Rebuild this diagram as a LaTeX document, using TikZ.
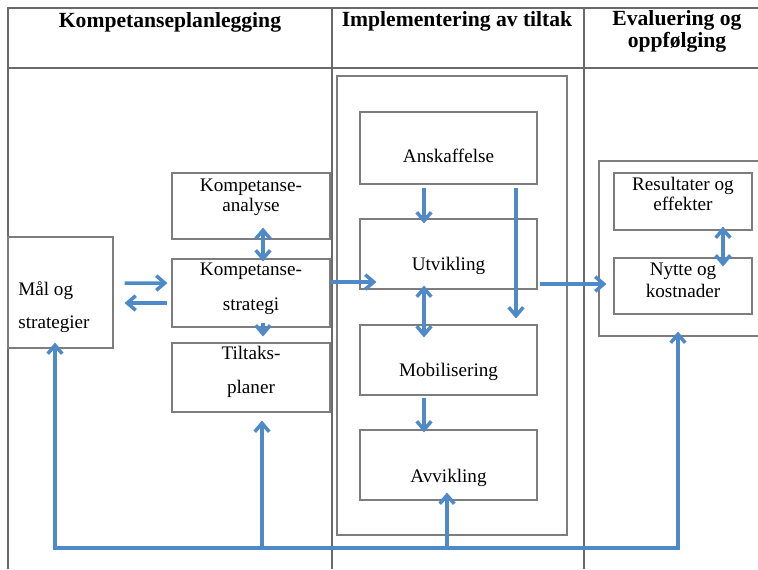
\documentclass[tikz,border=0pt]{standalone}
\usepackage{fontspec}
\setmainfont{Liberation Serif}
\usetikzlibrary{arrows.meta,calc,fit}

\definecolor{blaa}{RGB}{79,138,200}
\definecolor{strek}{RGB}{125,125,125}

\begin{document}
\begin{tikzpicture}[
  x=0.02cm, y=-0.02cm,
  >={Straight Barb[length=1.7mm,width=2.9mm]},
  boks/.style={draw=strek, line width=0.6pt, inner sep=0pt},
  tabell/.style={draw=strek!85!black, line width=0.6pt},
  txt/.style={inner sep=0pt, anchor=base, align=center, font=\fontsize{10.9}{11}\selectfont},
  hode/.style={inner sep=0pt, anchor=base, align=center, font=\fontsize{12.3}{12}\selectfont\bfseries},
  pil/.style={->, draw=blaa, line width=2pt}
]
\useasboundingbox (0,0) rectangle (758,569);
\clip (0,0) rectangle (758,569);

% Table frame and headers
\draw[tabell] (8,569) -- (8,8) -- (758,8);
\draw[tabell] (8,68) -- (758,68);
\draw[tabell] (332,8) -- (332,569);
\draw[tabell] (584,8) -- (584,569);

% (base of a two-line node = baseline of its last line)
\node[hode] (h1) at (170,27) {Kompetanseplanlegging};
\node[hode] (h2) at (457,26) {Implementering av tiltak};
\node[hode] (h3) at (677,47) {Evaluering og\\oppfølging};

% Kompetanseplanlegging
\node[boks, fit={(8,237) (113,348)}] (mal) {};
\node[txt, anchor=base west, align=left] (mal-t) at (18,328) {Mål og\\[7.7pt]strategier};
\node[boks, fit={(172,173) (330,239)}] (analyse) {};
\node[txt] (analyse-t) at (251,211) {Kompetanse-\\analyse};
\node[boks, fit={(172,259) (330,327)}] (strategi) {};
\node[txt] (strategi-t) at (251,310) {Kompetanse-\\[8.8pt]strategi};
\node[boks, fit={(172,343) (330,412)}] (tiltak) {};
\node[txt] (tiltak-t) at (251,393) {Tiltaks-\\[8.3pt]planer};

% Implementering av tiltak
\node[boks, fit={(337,76) (567,535)}] (impl) {};
\node[boks, fit={(360,112) (537,184)}] (anskaff) {};
\node[txt] (anskaff-t) at (448.5,162) {Anskaffelse};
\node[boks, fit={(360,219) (537,289)}] (utvikl) {};
\node[txt] (utvikl-t) at (448.5,270) {Utvikling};
\node[boks, fit={(360,325) (537,395)}] (mobil) {};
\node[txt] (mobil-t) at (448.5,376) {Mobilisering};
\node[boks, fit={(360,430) (537,500)}] (avvikl) {};
\node[txt] (avvikl-t) at (448.5,482) {Avvikling};

% Evaluering og oppfolging
\node[boks, fit={(599,161) (762,336)}] (eval) {};
\node[boks, fit={(614,173) (752,230)}] (result) {};
\node[txt] (result-t) at (683,210) {Resultater og\\effekter};
\node[boks, fit={(614,258) (752,314)}] (nytte) {};
\node[txt] (nytte-t) at (683,297) {Nytte og\\[1.5pt]kostnader};

% Arrows, left column
\draw[pil] ($(mal.east)+(11,-9.5)$) -- ($(strategi.west)+(-4,-10)$);
\draw[pil] ($(strategi.west)+(-4,10)$) -- ($(mal.east)+(11,10.5)$);
\draw[pil, <->] ($(analyse.south)+(12,-12)$) -- ($(strategi.north)+(12,3)$);
\draw[pil] ($(strategi.south)+(12,-5)$) -- ($(tiltak.north)+(12,-6)$);
\draw[pil] ($(strategi.east)+(0,-11)$) -- ($(utvikl.west)+(17,28)$);

% Arrows, middle column
\draw[pil] ($(anskaff.south)+(-24.5,3)$) -- ($(utvikl.north)+(-24.5,5)$);
\draw[pil] ($(anskaff.south)+(67.5,3)$) -- ($(mobil.north)+(67.5,-6)$);
\draw[pil, <->] ($(utvikl.south)+(-24.5,-4)$) -- ($(mobil.north)+(-24.5,13)$);
\draw[pil] ($(mobil.south)+(-24.5,2)$) -- ($(avvikl.north)+(-24.5,3)$);
\draw[pil] ($(utvikl.east)+(2,30)$) -- ($(eval.west)+(8,35.5)$);

% Arrows, right column
\draw[pil, <->] ($(result.south)+(40,-4)$) -- ($(nytte.north)+(40,9)$);

% Feedback loop
\coordinate (retur) at (447,548);
\coordinate (tiltak-fot) at ($(tiltak.south)+(11,0)$);
\draw[pil, <->] ($(mal.south)+(-5.5,-6)$) |- (retur) -| ($(eval.south)+(-2.5,-5)$);
\draw[pil] (tiltak-fot |- retur) -- ($(tiltak.south)+(11,8)$);
\draw[pil] (retur) -- ($(avvikl.south)+(-1.5,-8)$);

\end{tikzpicture}
\end{document}
